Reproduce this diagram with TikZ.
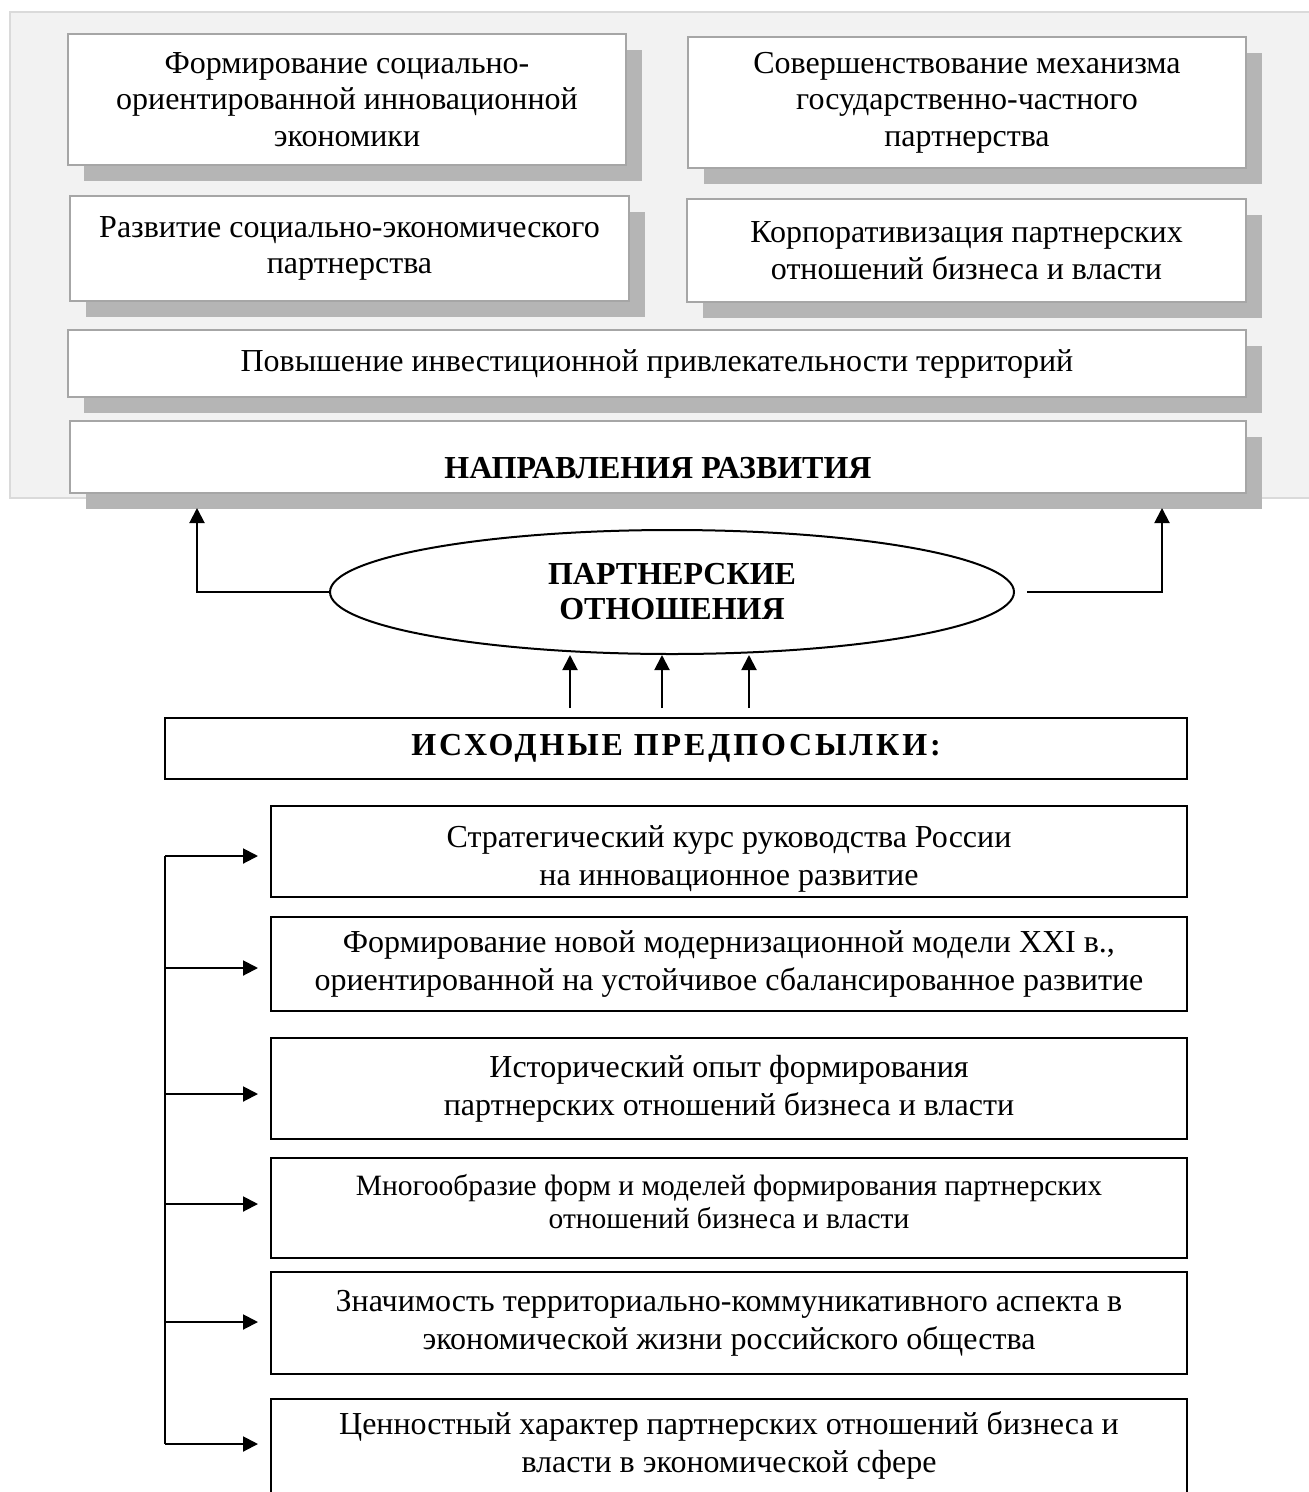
\documentclass[tikz,border=0pt]{standalone}
\usepackage{fontspec}
\setmainfont{Liberation Serif}
\usetikzlibrary{shapes.geometric,shadows,arrows.meta,calc}
\definecolor{framebg}{HTML}{F2F2F2}
\definecolor{frameline}{HTML}{DADADA}
\definecolor{boxline}{HTML}{A6A6A6}
\definecolor{shadowgray}{HTML}{B5B5B5}
% two centred lines, placed with their middle at the given offset from the node centre
\newcommand{\shiftedlines}[3]{\raisebox{#1}[0pt][0pt]{\begin{tabular}[c]{@{}c@{}}#2\\#3\end{tabular}}}

\begin{document}
\begin{tikzpicture}[x=1pt,y=-1pt,
  dirbox/.style={draw=boxline, line width=1.6pt, fill=white, align=center,
    inner sep=0pt, font=\fontsize{32}{36.5}\selectfont,
    drop shadow={shadow xshift=16pt, shadow yshift=-16pt, fill=shadowgray, opacity=1}},
  prebox/.style={draw=black, line width=2pt, fill=white, align=center,
    inner sep=0pt, minimum width=916pt, font=\fontsize{32}{38}\selectfont},
  conn/.style={line width=2pt},
  arr/.style={line width=2pt, -{Triangle[length=15pt,width=15pt]}}
]
\useasboundingbox (0,0) rectangle (1309,1492);

% background panel of the development directions
\fill[framebg, draw=frameline, line width=2pt] (10,12) rectangle (1330,498);

% development directions
\node[dirbox, minimum width=558pt, minimum height=131pt] (d1) at (347,99.5)
  {Формирование социально-\\ориентированной инновационной\\экономики};
\node[dirbox, minimum width=558pt, minimum height=131pt] (d2) at (967,102.5)
  {Совершенствование механизма\\государственно-частного\\партнерства};
\node[dirbox, minimum width=559pt, minimum height=105pt] (d3) at (349.5,248.5)
  {Развитие социально-экономического\\партнерства};
\node[dirbox, minimum width=559pt, minimum height=103pt] (d4) at (966.5,250.5)
  {Корпоративизация партнерских\\отношений бизнеса и власти};
\node[dirbox, minimum width=1178pt, minimum height=67pt] (d5) at (657,363.5)
  {Повышение инвестиционной привлекательности территорий};
\node[dirbox, minimum width=1176pt, minimum height=72pt] (dir) at (658,457)
  {\raisebox{-21pt}[0pt][0pt]{\bfseries НАПРАВЛЕНИЯ РАЗВИТИЯ}};

% central ellipse
\node[ellipse, draw, line width=2pt, minimum width=684pt, minimum height=124pt,
  inner sep=0pt, align=center, font=\fontsize{32}{35}\selectfont\bfseries]
  (ell) at (672,592) {ПАРТНЕРСКИЕ\\ОТНОШЕНИЯ};

% connectors to the directions block
\coordinate (upL) at (197,508);
\coordinate (upR) at (1162,508);
\draw[arr] (ell.west) -| (upL);
\draw[arr] ([xshift=12pt]ell.east) -| (upR);

% prerequisites header
\node[draw, line width=2pt, minimum width=1022pt, minimum height=61pt, inner sep=0pt,
  font=\fontsize{32}{36}\selectfont\bfseries\addfontfeatures{LetterSpace=9}]
  (pre) at (676,748.5) {ИСХОДНЫЕ ПРЕДПОСЫЛКИ:};

\coordinate (p1) at (570,708);
\coordinate (p2) at (662,708);
\coordinate (p3) at (749,708);
\foreach \p in {p1,p2,p3}
  \draw[arr] (\p) -- (\p |- ell.south);

% prerequisites list
\node[prebox, minimum height=91pt] (b1) at (729,851.5)
  {\shiftedlines{-14pt}{Стратегический курс руководства России}{на инновационное развитие}};
\node[prebox, minimum height=94pt] (b2) at (729,964)
  {Формирование новой модернизационной модели XXI в.,\\ориентированной на устойчивое сбалансированное развитие};
\node[prebox, minimum height=101pt] (b3) at (729,1088.5)
  {Исторический опыт формирования\\партнерских отношений бизнеса и власти};
\node[prebox, minimum height=100pt, font=\fontsize{29.5}{33}\selectfont] (b4) at (729,1208)
  {\shiftedlines{-4pt}{Многообразие форм и моделей формирования партнерских}{отношений бизнеса и власти}};
\node[prebox, minimum height=102pt] (b5) at (729,1323)
  {Значимость территориально-коммуникативного аспекта в\\экономической жизни российского общества};
\node[prebox, minimum height=98pt] (b6) at (729,1448)
  {\shiftedlines{-4pt}{Ценностный характер партнерских отношений бизнеса и}{власти в экономической сфере}};

% left spine with arrows into the list
\coordinate (s1) at (165,856);
\coordinate (s2) at (165,968);
\coordinate (s3) at (165,1094);
\coordinate (s4) at (165,1204);
\coordinate (s5) at (165,1322);
\coordinate (s6) at (165,1444);
\draw[conn] (s1) -- (s6);
\foreach \i in {1,...,6}
  \draw[arr, shorten >=12pt] (s\i) -- (s\i -| b\i.west);
\end{tikzpicture}
\end{document}
